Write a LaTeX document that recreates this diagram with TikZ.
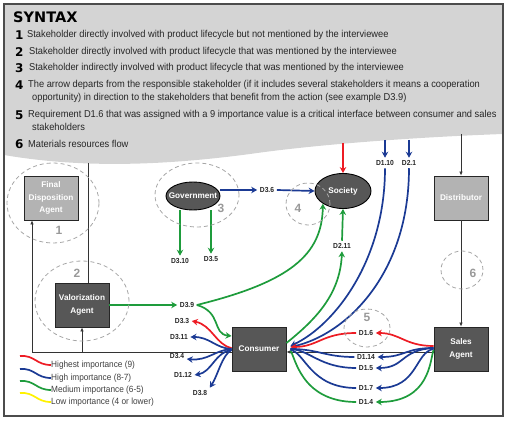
\documentclass[tikz,border=0pt]{standalone}
\usepackage{fontspec}
\setmainfont{Liberation Sans}
\newfontfamily\condfont[FakeStretch=0.92]{Liberation Sans}
\newfontfamily\synfont[FakeStretch=0.93]{Liberation Sans}
\newfontfamily\heavyfont{DejaVu Sans}
\usetikzlibrary{shapes.geometric,arrows.meta}
\definecolor{synbg}{HTML}{D4D4D4}
\definecolor{boxdark}{HTML}{575757}
\definecolor{boxlight}{HTML}{B3B3B3}
\definecolor{impred}{HTML}{ED1C24}
\definecolor{impblue}{HTML}{1B3A94}
\definecolor{impgreen}{HTML}{1E9C3C}
\definecolor{impyellow}{HTML}{FFF200}

\begin{document}
\begin{tikzpicture}[x=1pt, y=-1pt]
    \tikzset{
      agent/.style = {rectangle, draw=black!85, line width=0.9pt, fill=boxdark,
      minimum width=54pt, minimum height=44pt, inner sep=0pt, align=center,
      text=white, font=\bfseries\fontsize{8.2}{12.5}\selectfont},
      agentlight/.style = {agent, fill=boxlight},
      actor/.style = {ellipse, draw=black, line width=0.9pt, fill=boxdark,
      inner sep=0pt},
      actortext/.style = {text=white, inner sep=0pt,
      font=\bfseries\fontsize{8.2}{10}\selectfont},
      req/.style = {inner sep=2.5pt, text=black!85,
      font=\bfseries\condfont\fontsize{7.3}{8}\selectfont},
      zone/.style = {ellipse, draw=black!35, line width=0.8pt,
      dash pattern=on 4pt off 3pt, inner sep=0pt},
      zonenum/.style = {text=black!40, inner sep=0pt,
      font=\bfseries\fontsize{12}{12}\selectfont},
      synnum/.style = {anchor=west, inner sep=0pt,
      font=\heavyfont\bfseries\fontsize{12}{12}\selectfont},
      syntext/.style = {anchor=west, inner sep=0pt, text=black!85,
      font=\synfont\fontsize{10}{12}\selectfont},
      legtext/.style = {anchor=west, inner sep=0pt, text=black!75,
      font=\condfont\fontsize{9}{11}\selectfont},
      flow/.style = {black!80, line width=0.6pt},
      flowarr/.style = {flow, -{Latex[length=4pt,width=3.5pt]}},
      imp/.style = {line width=1.7pt, -{Stealth[length=6pt,width=6.5pt]}},
      impline/.style = {line width=1.7pt},
      leg/.style = {line width=1.7pt}
    }

    \useasboundingbox (0,0) rectangle (507,422);

    % syntax banner
    \fill[synbg] (4,4) -- (503,4) -- (503,134)
      .. controls (420,137) and (320,144) .. (250,154)
      .. controls (160,166) and (80,168) .. (4,155) -- cycle;
    \draw[black!70, line width=1.4pt] (4,4) rectangle (503,416);

    \node[synnum, font=\heavyfont\bfseries\fontsize{14.5}{14.5}\selectfont]
      (title) at (13,17) {SYNTAX};
    \node[synnum] (num1) at (15,35) {1};
    \node[syntext] (syn1) at (27,35) {Stakeholder directly involved with product lifecycle but not mentioned by the interviewee};
    \node[synnum] (num2) at (15,52) {2};
    \node[syntext] (syn2) at (29,52) {Stakeholder directly involved with product lifecycle that was mentioned by the interviewee};
    \node[synnum] (num3) at (15,68) {3};
    \node[syntext] (syn3) at (29,68) {Stakeholder indirectly involved with product lifecycle that was mentioned by the interviewee};
    \node[synnum] (num4) at (15,85) {4};
    \node[syntext] (syn4) at (28,85) {The arrow departs from the responsible stakeholder (if it includes several stakeholders it means a cooperation};
    \node[syntext] (syn4b) at (32,98) {opportunity) in direction to the stakeholders that benefit from the action (see example D3.9)};
    \node[synnum] (num5) at (15,115) {5};
    \node[syntext] (syn5) at (28,115) {Requirement D1.6 that was assigned with a 9 importance value is a critical interface between consumer and sales};
    \node[syntext] (syn5b) at (32,127) {stakeholders};
    \node[synnum] (num6) at (15,144) {6};
    \node[syntext] (syn6) at (28,144) {Materials resources flow};

    % stakeholders
    \node[agentlight] (fda) at (51,198) {Final\\Disposition\\Agent};
    \node[agentlight] (dist) at (461,198) {Distributor};
    \node[agent] (valor) at (82,305) {Valorization\\Agent};
    \node[agent] (cons) at (259,349) {Consumer};
    \node[agent] (sales) at (461,349) {Sales\\Agent};
    \node[actor, minimum width=54pt, minimum height=28pt,
      label={[actortext]center:Government}] (gov) at (193,196) {};
    \node[actor, minimum width=56pt, minimum height=35pt,
      label={[actortext]center:Society}] (soc) at (343,191) {};

    % requirements
    \node[req] (d310) at (180,261) {D3.10};
    \node[req] (d35) at (211,259) {D3.5};
    \node[req] (d36) at (267,190) {D3.6};
    \node[req] (d110) at (385,163) {D1.10};
    \node[req] (d21) at (409,163) {D2.1};
    \node[req] (d211) at (342,246) {D2.11};
    \node[req] (d39) at (187,305) {D3.9};
    \node[req] (d33) at (182,321) {D3.3};
    \node[req] (d311) at (179,337) {D3.11};
    \node[req] (d34) at (177,356) {D3.4};
    \node[req] (d112) at (183,375) {D1.12};
    \node[req] (d38) at (200,393) {D3.8};
    \node[req] (d16) at (366,333) {D1.6};
    \node[req] (d114) at (366,357) {D1.14};
    \node[req] (d15) at (366,368) {D1.5};
    \node[req] (d17) at (366,388) {D1.7};
    \node[req] (d14) at (366,402) {D1.4};

    % materials flow
    \coordinate (topv) at (88,163);
    \coordinate (topd) at (461,134);
    \coordinate (cl) at ([yshift=-3pt]cons.west);
    \coordinate (jv) at (valor.south |- cl);
    \draw[flow] (topv) -- (topv |- valor.north);
    \draw[flowarr] (cl) -| ([xshift=-19pt]fda.south);
    \draw[flowarr] (jv) -- (valor.south);
    \draw[flowarr] ([yshift=-3pt]sales.west) -- ([yshift=-3pt]cons.east);
    \draw[flowarr] (topd) -- (dist.north);
    \draw[flowarr] (dist.south) -- (sales.north);

    % government and society
    \coordinate (topr) at (343,143);
    \coordinate (t110) at (385,140);
    \coordinate (t21) at (409,140);
    \draw[imp, impblue] (gov.east |- d36.west) -- (d36.west);
    \draw[imp, impblue] (d36.east) -- (soc.west);
    \draw[imp, impgreen] (d310.north |- gov.south) -- (d310.north);
    \draw[imp, impgreen] (d35.north |- gov.south) -- (d35.north);
    \draw[imp, impred] (topr) -- (soc.north);
    \draw[imp, impblue] (t110) -- (d110.north);
    \draw[imp, impblue] (t21) -- (d21.north);
    \draw[imp, impgreen] (d211.north) -- (soc.south);
    \draw[imp, impgreen] ([yshift=6pt]cons.east)
      .. controls (315,320) and (340,295) .. (d211.south);
    \draw[imp, impgreen] (valor.east) -- (d39.west);
    \draw[imp, impgreen] (d39.east)
      .. controls (290,282) and (322,255) .. (soc.south west);
    \draw[imp, impgreen] (d39.east)
      .. controls (222,312) and (212,334) .. ([yshift=13pt]cons.west);
    \draw[imp, impblue] (d110.south)
      .. controls (385,260) and (335,325) .. ([xshift=4pt,yshift=3pt]cons.east);
    \draw[imp, impblue] (d21.south)
      .. controls (409,275) and (345,335) .. ([xshift=4pt,yshift=2pt]cons.east);

    % consumer side
    \draw[imp, impred] ([yshift=1pt]cons.west)
      .. controls (216,345) and (212,325) .. (d33.east);
    \draw[imp, impblue] (cons.west)
      .. controls (215,348) and (210,337) .. (d311.east);
    \draw[imp, impblue] (cons.west)
      .. controls (215,350) and (208,361) .. ([yshift=-3pt]d34.east);
    \draw[imp, impblue] ([yshift=-1pt]cons.west)
      .. controls (215,352) and (212,372) .. (d112.east);
    \draw[imp, impblue] ([yshift=-1pt]cons.west)
      .. controls (222,355) and (218,375) .. (d38.north east);

    % sales side
    \draw[imp, impred] ([yshift=3pt]sales.west)
      .. controls (405,346) and (400,333) .. (d16.east);
    \draw[imp, impred] (d16.west)
      .. controls (322,333) and (318,347) .. ([xshift=4pt,yshift=2pt]cons.east);
    \draw[imp, impblue] ([yshift=1pt]sales.west)
      .. controls (405,348) and (405,357) .. (d114.east);
    \draw[impline, impblue] ([xshift=4pt]cons.east)
      .. controls (318,349) and (325,357) .. (d114.west);
    \draw[imp, impblue] ([yshift=1pt]sales.west)
      .. controls (400,350) and (405,368) .. (d15.east);
    \draw[impline, impblue] ([xshift=4pt]cons.east)
      .. controls (310,350) and (320,368) .. (d15.west);
    \draw[imp, impblue] (sales.west)
      .. controls (415,352) and (418,388) .. (d17.east);
    \draw[impline, impblue] ([xshift=4pt,yshift=-1pt]cons.east)
      .. controls (305,352) and (310,388) .. (d17.west);
    \draw[imp, impgreen] ([yshift=-1pt]sales.west)
      .. controls (430,360) and (430,402) .. (d14.east);
    \draw[impline, impgreen] ([xshift=4pt,yshift=-2pt]cons.east)
      .. controls (295,355) and (300,402) .. (d14.west);

    % zones
    \node[zone, minimum width=92pt, minimum height=80pt] (z1) at (53,203) {};
    \node[zone, minimum width=94pt, minimum height=80pt] (z2) at (82,301) {};
    \node[zone, minimum width=84pt, minimum height=64pt] (z3) at (197,195) {};
    \node[zone, minimum width=44pt, minimum height=42pt] (z4) at (308,204) {};
    \node[zone, minimum width=46pt, minimum height=38pt] (z5) at (367,328) {};
    \node[zone, minimum width=42pt, minimum height=38pt] (z6) at (462,270) {};
    \node[zonenum] (n1) at (59,230) {1};
    \node[zonenum] (n2) at (77,273) {2};
    \node[zonenum] (n3) at (221,208) {3};
    \node[zonenum] (n4) at (298,208) {4};
    \node[zonenum] (n5) at (367,317) {5};
    \node[zonenum] (n6) at (473,273) {6};

    % legend
    \node[legtext] (legred) at (51,365) {Highest importance (9)};
    \node[legtext] (legblue) at (51,378) {High importance (8-7)};
    \node[legtext] (leggreen) at (51,390) {Medium importance (6-5)};
    \node[legtext] (legyellow) at (51,402) {Low importance (4 or lower)};
    \draw[leg, impred] (20,356) .. controls (35,355) and (36,365) .. (legred.west);
    \draw[leg, impblue] (20,369) .. controls (35,368) and (36,378) .. (legblue.west);
    \draw[leg, impgreen] (20,381) .. controls (35,380) and (36,390) .. (leggreen.west);
    \draw[leg, impyellow] (20,393) .. controls (35,392) and (36,402) .. (legyellow.west);
\end{tikzpicture}
\end{document}
